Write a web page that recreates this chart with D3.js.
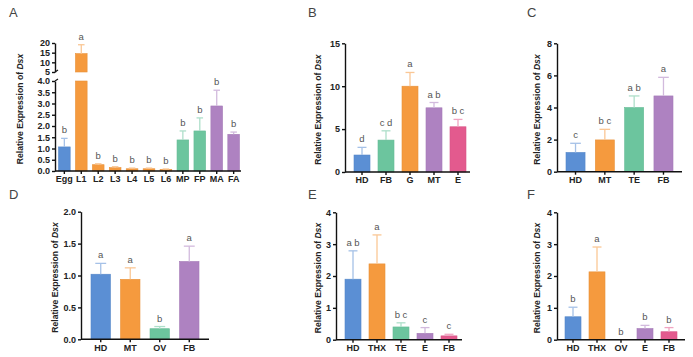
<!DOCTYPE html>
<html><head><meta charset="utf-8">
<script src="https://cdn.jsdelivr.net/npm/d3@7"></script>
<style>
html,body{margin:0;padding:0;background:#fff;}
svg{display:block;font-family:"Liberation Sans",Arial,sans-serif;}
</style></head>
<body>
<svg id="chart" width="693" height="357"></svg>
<script>
// ---------- DATA ----------
const catsA = ["Egg","L1","L2","L3","L4","L5","L6","MP","FP","MA","FA"];
const valsA = [1.07,14.5,0.28,0.15,0.10,0.10,0.07,1.38,1.78,2.89,1.63];
const errsA = [0.38,4.6,0.04,0.04,0.03,0.03,0.02,0.40,0.58,0.70,0.10];
const sigA  = ["b","a","b","b","b","b","b","b","b","b","b"];
const colA  = ["blue","orange","orange","orange","orange","orange","orange","green","green","purple","purple"];
const ticksA_low = [0,0.5,1,1.5,2,2.5,3,3.5,4];
const ticksA_high = [5,10,15,20];

const catsB = ["HD","FB","G","MT","E"];
const valsB = [1.98,3.72,10.0,7.48,5.27];
const errsB = [0.89,1.08,1.6,0.62,0.86];
const sigB  = ["d","c d","a","a b","b c"];
const colB  = ["blue","green","orange","purple","pink"];
const ticksB = [0,5,10,15];

const catsC = ["HD","MT","TE","FB"];
const valsC = [1.2,1.98,4.0,4.72];
const errsC = [0.57,0.66,0.72,1.16];
const sigC  = ["c","b c","a b","a"];
const colC  = ["blue","orange","green","purple"];
const ticksC = [0,2,4,6,8];

const catsD = ["HD","MT","OV","FB"];
const valsD = [1.02,0.94,0.166,1.22];
const errsD = [0.17,0.18,0.034,0.24];
const sigD  = ["a","a","b","a"];
const colD  = ["blue","orange","green","purple"];
const ticksD = [0,0.5,1.0,1.5,2.0];

const catsE = ["HD","THX","TE","E","FB"];
const valsE = [1.90,2.38,0.40,0.20,0.12];
const errsE = [0.89,0.91,0.13,0.18,0.05];
const sigE  = ["a b","a","b c","c","c"];
const colE  = ["blue","orange","green","purple","pink"];
const ticksE = [0,1,2,3,4];

const catsF = ["HD","THX","OV","E","FB"];
const valsF = [0.72,2.13,0,0.35,0.25];
const errsF = [0.30,0.78,0,0.10,0.13];
const sigF  = ["b","a","b","b","b"];
const colF  = ["blue","orange","green","purple","pink"];
const ticksF = [0,1,2,3,4];

// ---------- STYLE ----------
const palette = {blue:"#5b8fd4", orange:"#f59a3e", green:"#6cc59e", purple:"#ae82c1", pink:"#e35a8e"};
const errCol = k => d3.interpolateRgb(palette[k], "#ffffff")(0.45);

const svg = d3.select("#chart");
const fmt1 = d3.format(".1f");

function panelLetter(txt, x, y){
  svg.append("text").attr("x",x).attr("y",y).attr("font-size",13).attr("fill","#444").text(txt);
}

function yTitle(x, yc){
  const t = svg.append("text").attr("transform",`translate(${x},${yc}) rotate(-90)`)
    .attr("text-anchor","middle").attr("font-size",8.6).attr("font-weight","bold").attr("fill","#222");
  t.append("tspan").text("Relative Expression of ");
  t.append("tspan").attr("font-style","italic").text("Dsx");
}

function styleAxis(g){
  g.selectAll("path,line").attr("stroke","#111").attr("stroke-width",1.4);
  g.selectAll("text").attr("font-size",9).attr("font-weight","bold").attr("fill","#222")
    .attr("font-family","'Liberation Sans',Arial,sans-serif");
}

function drawBars(cfg){
  const {cats, vals, errs, sig, cols, x, y, base} = cfg;
  const bw = x.bandwidth();
  const g = svg.append("g");
  cats.forEach((c,i)=>{
    const x0 = x(c);
    const v = vals[i], e = errs[i];
    const yTop = y(v);
    if (v > 0) g.append("rect").attr("x",x0).attr("y",yTop).attr("width",bw).attr("height",base - yTop)
      .attr("fill",palette[cols[i]]).attr("stroke",d3.color(palette[cols[i]]).darker(0.15)).attr("stroke-width",0.6);
    const ye = y(v+e);
    const cx = x0 + bw/2, cw = bw*0.28;
    if (e > 0){
      g.append("line").attr("x1",cx).attr("x2",cx).attr("y1",yTop).attr("y2",ye).attr("stroke",errCol(cols[i])).attr("stroke-width",1.3);
      g.append("line").attr("x1",cx-cw).attr("x2",cx+cw).attr("y1",ye).attr("y2",ye).attr("stroke",errCol(cols[i])).attr("stroke-width",1.3);
    }
    g.append("text").attr("x",cx).attr("y",ye-5).attr("text-anchor","middle").attr("font-size",9.5)
      .attr("fill","#555").text(sig[i]);
  });
}

function xAxis(x, base, axX, axRight){
  const g = svg.append("g").attr("transform",`translate(0,${base})`)
    .call(d3.axisBottom(x).tickSize(3).tickSizeOuter(0).tickPadding(2));
  g.select(".domain").remove();
  g.append("line").attr("x1",axX).attr("x2",axRight).attr("y1",0).attr("y2",0);
  styleAxis(g);
}

function simplePanel(p){
  const x = d3.scaleBand().domain(p.cats).range([p.x0,p.x1]).paddingInner(p.pad).paddingOuter(0);
  const y = d3.scaleLinear().domain([0, d3.max(p.ticks)]).range([p.base, p.top]);
  drawBars({cats:p.cats, vals:p.vals, errs:p.errs, sig:p.sig, cols:p.cols, x, y, base:p.base});
  const gy = svg.append("g").attr("transform",`translate(${p.axX},0)`)
    .call(d3.axisLeft(y).tickValues(p.ticks).tickSize(3).tickSizeOuter(0).tickPadding(2).tickFormat(p.fmt));
  styleAxis(gy);
  xAxis(x, p.base, p.axX, p.axRight);
  yTitle(p.titleX, (p.base+p.top)/2 + 2);
}

// ---------- PANEL A (broken axis) ----------
(function(){
  const base = 171, axX = 55;
  const x = d3.scaleBand().domain(catsA).range([58.5,239.5]).paddingInner(0.31).paddingOuter(0);
  const yLow = d3.scaleLinear().domain([0,4]).range([base,81]);
  const yHigh = d3.scaleLinear().domain([5,20]).range([72,43]);
  const bw = x.bandwidth();
  const g = svg.append("g");
  catsA.forEach((c,i)=>{
    const x0 = x(c), v = valsA[i], e = errsA[i], col = palette[colA[i]];
    const cx = x0 + bw/2, cw = bw*0.28;
    let ye;
    if (v <= 4){
      g.append("rect").attr("x",x0).attr("y",yLow(v)).attr("width",bw).attr("height",base-yLow(v))
        .attr("fill",col).attr("stroke",d3.color(col).darker(0.15)).attr("stroke-width",0.6);
      ye = yLow(v+e);
      g.append("line").attr("x1",cx).attr("x2",cx).attr("y1",yLow(v)).attr("y2",ye).attr("stroke",errCol(colA[i])).attr("stroke-width",1.3);
    } else {
      g.append("rect").attr("x",x0).attr("y",yLow(4)).attr("width",bw).attr("height",base-yLow(4))
        .attr("fill",col).attr("stroke",d3.color(col).darker(0.15)).attr("stroke-width",0.6);
      g.append("rect").attr("x",x0).attr("y",yHigh(v)).attr("width",bw).attr("height",yHigh(5)-yHigh(v))
        .attr("fill",col).attr("stroke",d3.color(col).darker(0.15)).attr("stroke-width",0.6);
      ye = yHigh(v+e);
      g.append("line").attr("x1",cx).attr("x2",cx).attr("y1",yHigh(v)).attr("y2",ye).attr("stroke",errCol(colA[i])).attr("stroke-width",1.3);
    }
    g.append("line").attr("x1",cx-cw).attr("x2",cx+cw).attr("y1",ye).attr("y2",ye).attr("stroke",errCol(colA[i])).attr("stroke-width",1.3);
    g.append("text").attr("x",cx).attr("y",ye-5).attr("text-anchor","middle").attr("font-size",9.5).attr("fill","#555").text(sigA[i]);
  });
  const gl = svg.append("g").attr("transform",`translate(${axX},0)`)
    .call(d3.axisLeft(yLow).tickValues(ticksA_low).tickSize(3).tickSizeOuter(0).tickPadding(2).tickFormat(fmt1));
  styleAxis(gl);
  const gh = svg.append("g").attr("transform",`translate(${axX},0)`)
    .call(d3.axisLeft(yHigh).tickValues(ticksA_high).tickSize(3).tickSizeOuter(0).tickPadding(2).tickFormat(d3.format("d")));
  styleAxis(gh);
  // break marks
  svg.append("line").attr("x1",axX).attr("x2",axX+3).attr("y1",81).attr("y2",79).attr("stroke","#111").attr("stroke-width",1.2);
  svg.append("line").attr("x1",axX).attr("x2",axX+3).attr("y1",72).attr("y2",70).attr("stroke","#111").attr("stroke-width",1.2);
  xAxis(x, base, axX, 241);
  yTitle(23, 109);
})();

simplePanel({cats:catsB, vals:valsB, errs:errsB, sig:sigB, cols:colB, ticks:ticksB, fmt:d3.format("d"),
  x0:354, x1:466, pad:0.333, base:172, top:43.3, axX:345, axRight:470, titleX:321});
simplePanel({cats:catsC, vals:valsC, errs:errsC, sig:sigC, cols:colC, ticks:ticksC, fmt:d3.format("d"),
  x0:566, x1:673, pad:0.35, base:171.7, top:43.3, axX:557, axRight:682, titleX:540});
simplePanel({cats:catsD, vals:valsD, errs:errsD, sig:sigD, cols:colD, ticks:ticksD, fmt:fmt1,
  x0:91, x1:199, pad:0.34, base:339.3, top:211.7, axX:81, axRight:209, titleX:58});
simplePanel({cats:catsE, vals:valsE, errs:errsE, sig:sigE, cols:colE, ticks:ticksE, fmt:d3.format("d"),
  x0:345, x1:457, pad:0.333, base:339.7, top:212.3, axX:336, axRight:462, titleX:321});
simplePanel({cats:catsF, vals:valsF, errs:errsF, sig:sigF, cols:colF, ticks:ticksF, fmt:d3.format("d"),
  x0:565, x1:677, pad:0.333, base:339.7, top:212.3, axX:557, axRight:685, titleX:540});

panelLetter("A", 9, 17);
panelLetter("B", 308, 17);
panelLetter("C", 527, 17);
panelLetter("D", 9, 199);
panelLetter("E", 308, 199);
panelLetter("F", 527, 199);
</script>
</body></html>
